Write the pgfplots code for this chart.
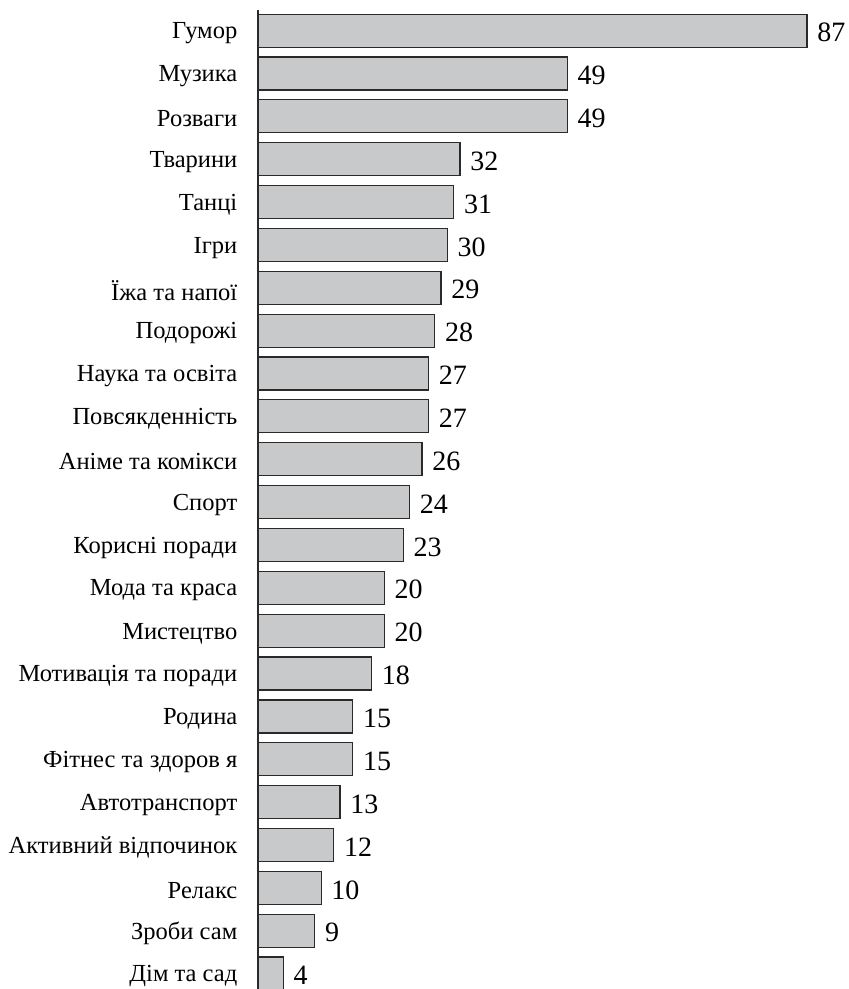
\documentclass[border=0pt]{standalone}
\usepackage{fontspec}
\setmainfont{Liberation Serif}
\usepackage{pgfplots}
\pgfplotsset{compat=1.18}
\definecolor{barGray}{HTML}{C8C9CB}
\definecolor{edgeGray}{HTML}{2A2A2A}
\begin{document}
\begin{tikzpicture}
\begin{axis}[
  scale only axis,
  width=426pt, height=734.2pt,
  xmin=0, xmax=90,
  ymin=-0.36, ymax=22.48,
  axis x line=none,
  axis y line*=left,
  y axis line style={draw=edgeGray, line width=0.8pt},
  xbar, bar width=24.75pt,
  ytick={0,...,22},
  yticklabels={Дім та сад,Зроби сам,Релакс,Активний відпочинок,Автотранспорт,Фітнес та здоров я,Родина,Мотивація та поради,Мистецтво,Мода та краса,Корисні поради,Спорт,Аніме та комікси,Повсякденність,Наука та освіта,Подорожі,Їжа та напої,Ігри,Танці,Тварини,Розваги,Музика,Гумор},
  major tick length=0pt,
  yticklabel style={font=\fontsize{18.4pt}{20pt}\selectfont, xshift=-12pt, yshift=-2pt},
  /pgf/number format/assume math mode=true,
  nodes near coords,
  nodes near coords style={font=\fontsize{21pt}{23pt}\selectfont, anchor=west, xshift=4pt, yshift=-1.5pt, text=black},
  clip=false,
]
\addplot[fill=barGray, draw=edgeGray, line width=0.9pt] coordinates {
(4,0) (9,1) (10,2) (12,3) (13,4) (15,5) (15,6) (18,7) (20,8) (20,9) (23,10) (24,11) (26,12) (27,13) (27,14) (28,15) (29,16) (30,17) (31,18) (32,19) (49,20) (49,21) (87,22)
};
\coordinate (bl) at (axis cs:0,-0.36);
\end{axis}
\pgfresetboundingbox
\path[use as bounding box] (bl) ++(-193.5pt,0) rectangle ++(636.75pt,741.75pt);
\end{tikzpicture}
\end{document}
